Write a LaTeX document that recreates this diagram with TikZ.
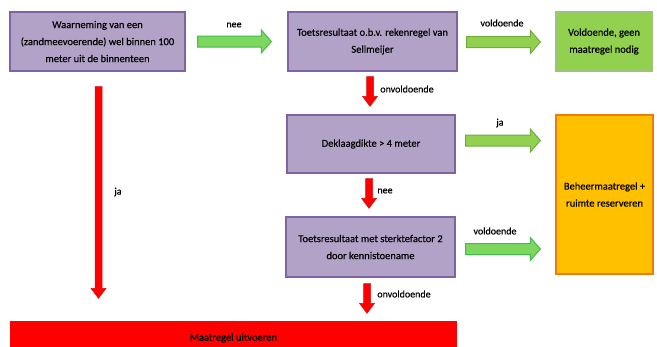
\documentclass[tikz,border=0pt]{standalone}
\usepackage{fontspec}
\setmainfont{Carlito}[FakeBold=0.35]
\usetikzlibrary{calc}
\definecolor{paars}{HTML}{B3A2C7}
\definecolor{paarsrand}{HTML}{8064A2}
\definecolor{groen}{HTML}{92D050}
\definecolor{groenrand}{HTML}{72AC3E}
\definecolor{felgroen}{HTML}{7DD65E}
\definecolor{felgroenrand}{HTML}{3FBF4C}
\definecolor{oranje}{HTML}{FFC000}
\definecolor{oranjerand}{HTML}{F07A10}
\definecolor{rood}{HTML}{FF0000}
\definecolor{roodrand}{HTML}{D81010}
% block arrows: style, start, tip
\newcommand{\pijlh}[3]{\draw[#1]($(#2)+(0,-5.5)$)--($(#3)+(-10,-5.5)$)--($(#3)+(-10,-11.5)$)--(#3)--($(#3)+(-10,11.5)$)--($(#3)+(-10,5.5)$)--($(#2)+(0,5.5)$)--cycle;}
\newcommand{\pijlv}[3]{\draw[#1]($(#2)+(-3.5,0)$)--($(#3)+(-3.5,-10)$)--($(#3)+(-7.5,-10)$)--(#3)--($(#3)+(7.5,-10)$)--($(#3)+(3.5,-10)$)--($(#2)+(3.5,0)$)--cycle;}

\begin{document}
\begin{tikzpicture}[x=1pt,y=-1pt,font=\fontsize{10.5}{17}\selectfont,
  blok/.style={draw=paarsrand,fill=paars,line width=1.3pt,inner sep=0pt,align=center,text=black},
  lbl/.style={font=\fontsize{10}{12}\selectfont,inner sep=0pt,text=black},
  groenpijl/.style={draw=groenrand,fill=groen,line width=1pt},
  felpijl/.style={draw=felgroenrand,fill=felgroen,line width=1pt},
  roodpijl/.style={draw=roodrand,fill=rood,line width=.5pt}]
\useasboundingbox(0,0)rectangle(657,346);
\clip(0,0)rectangle(657,346);
\fill[white](0,0)rectangle(657,346);
% boxes
\node[blok,minimum width=175pt,minimum height=59pt](obs)at(97.5,41.5){Waarneming van een\\(zandmeevoerende) wel binnen 100\\meter uit de binnenteen};
\node[blok,minimum width=169pt,minimum height=59pt](toets)at(372.5,41.5){Toetsresultaat o.b.v. rekenregel van\\Sellmeijer};
\node[blok,draw=groenrand!70,fill=groen,minimum width=96pt,minimum height=59pt](geen)at(604,41.5){Voldoende, geen\\maatregel nodig};
\node[blok,minimum width=168pt,minimum height=58pt](dek)at(371,144){Deklaagdikte > 4 meter};
\node[blok,draw=oranjerand,fill=oranje,minimum width=97pt,minimum height=159pt](beheer)at(604.5,194.5){Beheermaatregel +\\ruimte reserveren};
\node[blok,minimum width=169pt,minimum height=60pt](sterk)at(370.5,247){Toetsresultaat met sterktefactor 2\\door kennistoename};
\node[blok,draw=none,fill=rood,minimum width=447pt,minimum height=34pt](uitv)at(233.5,338){Maatregel uitvoeren};
% arrow ends
\coordinate(a1)at($(obs.east)+(12,0)$);
\coordinate(a2)at($(toets.west)+(-16,0)$);
\coordinate(b1)at($(toets.east)+(9,0.5)$);
\coordinate(b2)at($(geen.west)+(-15,0.5)$);
\coordinate(c1)at($(dek.east)+(10,-3.5)$);
\coordinate(c0)at(beheer.west|-c1);
\coordinate(c2)at($(c0)+(-15,0)$);
\coordinate(d1)at($(sterk.east)+(10,2)$);
\coordinate(d0)at(beheer.west|-d1);
\coordinate(d2)at($(d0)+(-15,0)$);
\coordinate(e1)at($(toets.south)+(-2.5,5)$);
\coordinate(e0)at(dek.north-|e1);
\coordinate(e2)at($(e0)+(0,-8)$);
\coordinate(f1)at($(dek.south)+(-2,5)$);
\coordinate(f0)at(sterk.north-|f1);
\coordinate(f2)at($(f0)+(0,-8)$);
\coordinate(g1)at($(sterk.south)+(-3.5,6)$);
\coordinate(g0)at(uitv.north-|g1);
\coordinate(g2)at($(g0)+(0,-7)$);
\coordinate(h1)at($(obs.south)+(1,15)$);
\coordinate(h0)at(uitv.north-|h1);
\coordinate(h2)at($(h0)+(0,-22)$);
% arrows
\pijlh{felpijl}{a1}{a2}
\pijlh{groenpijl}{b1}{b2}
\pijlh{groenpijl}{c1}{c2}
\pijlh{felpijl}{d1}{d2}
\pijlv{roodpijl}{e1}{e2}
\pijlv{roodpijl}{f1}{f2}
\pijlv{roodpijl}{g1}{g2}
\pijlv{roodpijl}{h1}{h2}
% labels
\node[lbl](lnee)at(234,25){nee};
\node[lbl](lvold)at(502,23){voldoende};
\node[lbl](lonv)at(407,89){onvoldoende};
\node[lbl](lja)at(500,123){ja};
\node[lbl](lnee2)at(385,191){nee};
\node[lbl](lvold2)at(495,231){voldoende};
\node[lbl](lonv2)at(404,294){onvoldoende};
\node[lbl](lja2)at(118,192){ja};
\end{tikzpicture}
\end{document}
